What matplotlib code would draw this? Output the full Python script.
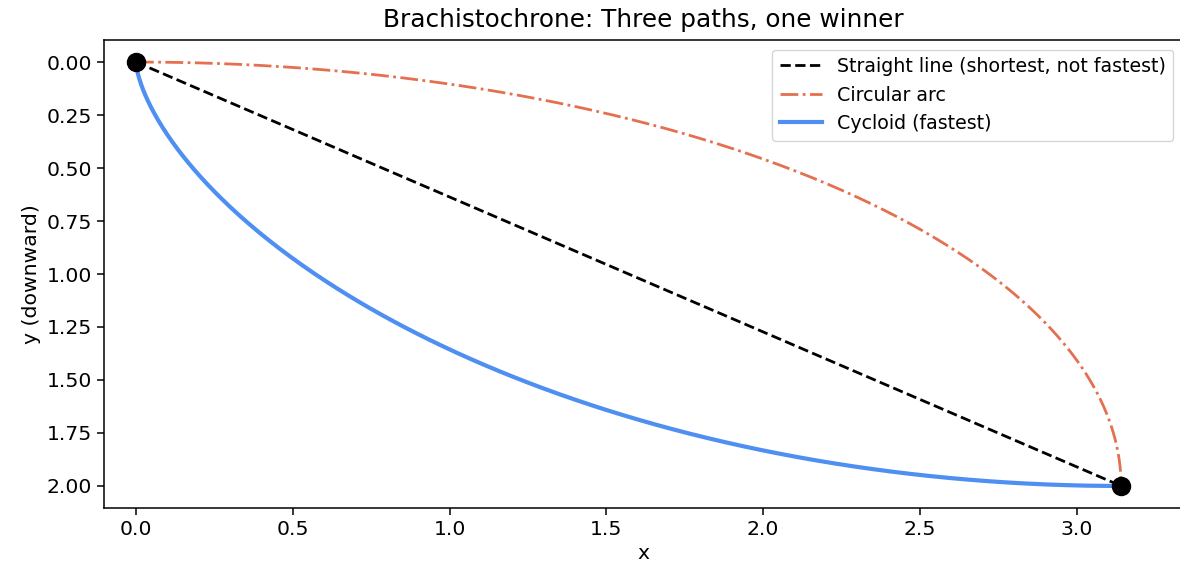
import numpy as np
import matplotlib.pyplot as plt

# endpoints of the race: start at the origin, finish one half-turn of the cycloid later
start_pt = [0.0, 0.0]
end_pt = [np.pi, 2.0]
wheel_radius = 1.0

line_labels = ["Straight line (shortest, not fastest)", "Circular arc", "Cycloid (fastest)"]
line_colors = ["black", "#e4704f", "#4f8ff2"]

x_ticks = [0.0, 0.5, 1.0, 1.5, 2.0, 2.5, 3.0]
y_ticks = [0.0, 0.25, 0.5, 0.75, 1.0, 1.25, 1.5, 1.75, 2.0]

# straight line between the two points
line_x = [start_pt[0], end_pt[0]]
line_y = [start_pt[1], end_pt[1]]

# arc: flat at the start, vertical at the finish
th = np.linspace(0, np.pi / 2, 300)
arc_x = start_pt[0] + (end_pt[0] - start_pt[0]) * np.sin(th)
arc_y = start_pt[1] + (end_pt[1] - start_pt[1]) * (1 - np.cos(th))

# cycloid traced by a point on a rolling wheel
t = np.linspace(0, np.pi, 400)
cyc_x = wheel_radius * (t - np.sin(t))
cyc_y = wheel_radius * (1 - np.cos(t))

fig = plt.figure(figsize=(11.8, 5.69), dpi=100)
ax = fig.add_axes([104 / 1180, 61 / 569, 1079 / 1180, 468 / 569])

ax.plot(line_x, line_y, "--", color=line_colors[0], lw=2.0, label=line_labels[0])
ax.plot(arc_x, arc_y, "-.", color=line_colors[1], lw=2.0, label=line_labels[1])
ax.plot(cyc_x, cyc_y, "-", color=line_colors[2], lw=3.0, label=line_labels[2])
ax.plot([start_pt[0], end_pt[0]], [start_pt[1], end_pt[1]], "o", color="black", ms=13, zorder=5)

ax.set_xlim(-0.102, 3.339)
ax.set_ylim(2.104, -0.104)
ax.set_xticks(x_ticks)
ax.set_yticks(y_ticks)
ax.set_xticklabels([f"{v:.1f}" for v in x_ticks])
ax.set_yticklabels([f"{v:.2f}" for v in y_ticks])
ax.tick_params(labelsize=14.7, length=5, width=1.1)
for s in ax.spines.values():
    s.set_linewidth(1.1)

ax.set_title("Brachistochrone: Three paths, one winner", fontsize=17.8, pad=9)
ax.set_xlabel("x", fontsize=14.7)
ax.set_ylabel("y (downward)", fontsize=14.7)
ax.legend(loc="upper right", fontsize=13.7, handlelength=2.2)

fig.savefig("out.png", dpi=100)
